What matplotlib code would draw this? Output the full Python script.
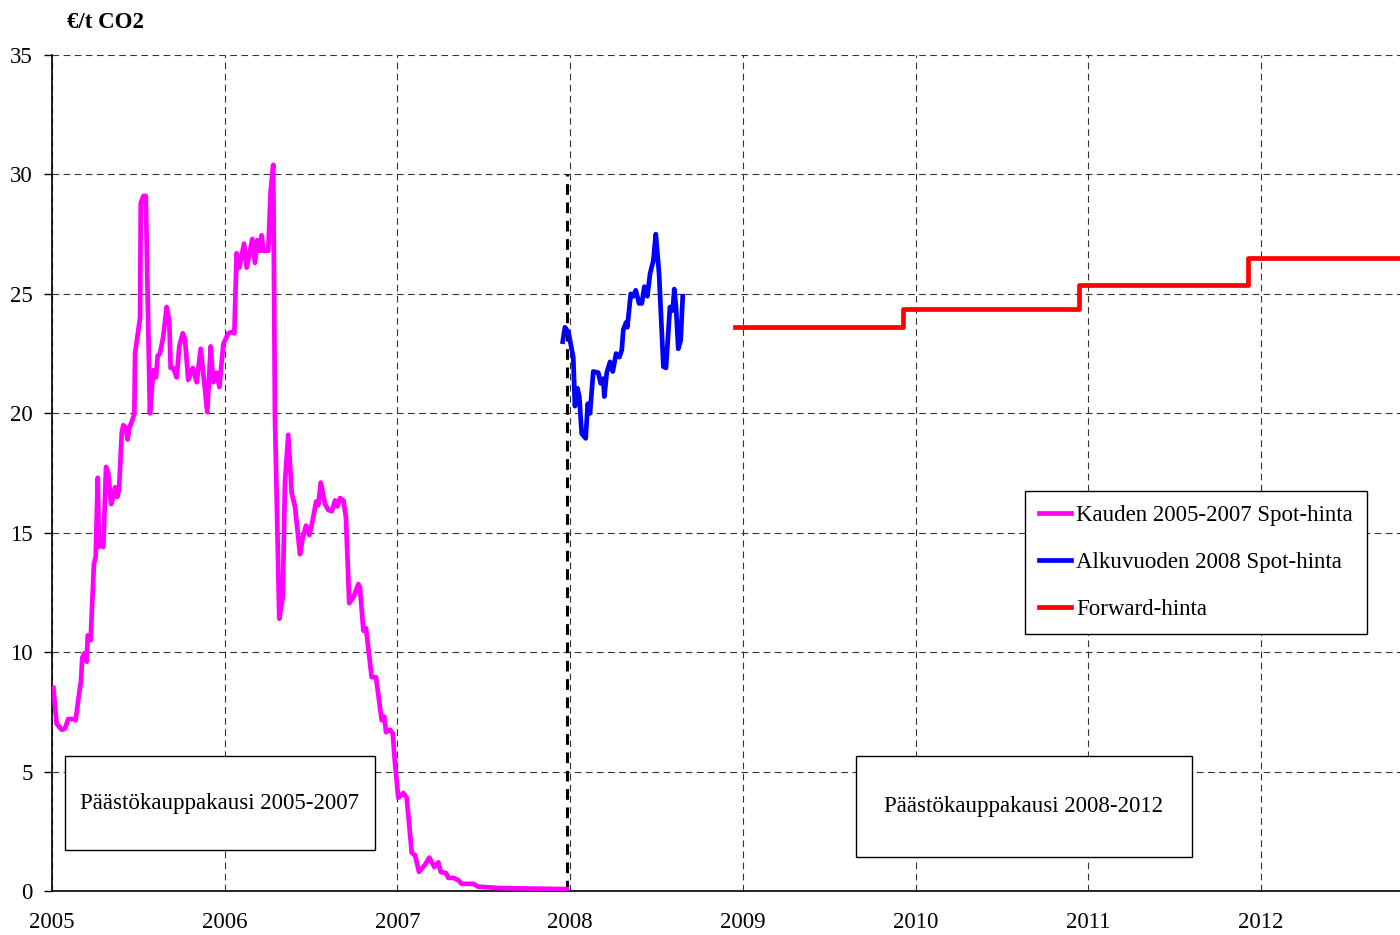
import matplotlib
matplotlib.use("Agg")
import matplotlib.pyplot as plt
from matplotlib.patches import Rectangle
import numpy as np

plt.rcParams['font.family'] = ['Liberation Serif', 'DejaVu Serif']

# ---------------- data ----------------
spot0507_year = [2005.008, 2005.027, 2005.056, 2005.075, 2005.094, 2005.123, 2005.137, 2005.152,
                 2005.168, 2005.175, 2005.187, 2005.201, 2005.207, 2005.224, 2005.230, 2005.243,
                 2005.253, 2005.265, 2005.272, 2005.288, 2005.297, 2005.313, 2005.326, 2005.342,
                 2005.355, 2005.365, 2005.378, 2005.388, 2005.404, 2005.413, 2005.427, 2005.438,
                 2005.448, 2005.465, 2005.477, 2005.481, 2005.510, 2005.514, 2005.529, 2005.543,
                 2005.567, 2005.587, 2005.602, 2005.612, 2005.625, 2005.644, 2005.664, 2005.679,
                 2005.687, 2005.702, 2005.722, 2005.737, 2005.757, 2005.770, 2005.789, 2005.815,
                 2005.838, 2005.861, 2005.880, 2005.899, 2005.919, 2005.934, 2005.954, 2005.969,
                 2005.992, 2006.021, 2006.041, 2006.056, 2006.069, 2006.085, 2006.112, 2006.127,
                 2006.160, 2006.175, 2006.189, 2006.204, 2006.214, 2006.224, 2006.252, 2006.266,
                 2006.281, 2006.291, 2006.316, 2006.336, 2006.349, 2006.368, 2006.388, 2006.407,
                 2006.436, 2006.452, 2006.471, 2006.490, 2006.513, 2006.529, 2006.542, 2006.556,
                 2006.581, 2006.600, 2006.620, 2006.639, 2006.652, 2006.668, 2006.687, 2006.702,
                 2006.721, 2006.745, 2006.774, 2006.783, 2006.803, 2006.818, 2006.851, 2006.876,
                 2006.909, 2006.924, 2006.934, 2006.957, 2006.973, 2006.986, 2007.005, 2007.034,
                 2007.054, 2007.083, 2007.102, 2007.125, 2007.160, 2007.185, 2007.214, 2007.237,
                 2007.251, 2007.281, 2007.295, 2007.324, 2007.353, 2007.372, 2007.439, 2007.468,
                 2007.594, 2007.768, 2007.980]
spot0507_price = [8.5, 7.0, 6.75, 6.8, 7.2, 7.2, 7.15, 8.0,
                  8.8, 9.75, 9.95, 9.6, 10.7, 10.5, 11.6, 13.7,
                  14.0, 17.3, 14.4, 14.6, 14.4, 17.75, 17.5, 16.2,
                  16.5, 16.9, 16.5, 16.8, 19.2, 19.5, 19.4, 18.9,
                  19.4, 19.7, 20.0, 22.5, 24.0, 28.8, 29.1, 29.1,
                  20.0, 21.8, 21.5, 22.4, 22.5, 23.2, 24.45, 23.9,
                  21.9, 21.9, 21.5, 22.8, 23.35, 23.1, 21.4, 21.9,
                  21.3, 22.7, 21.4, 20.05, 22.8, 21.3, 21.7, 21.1,
                  22.9, 23.35, 23.4, 23.35, 26.7, 26.1, 27.1, 26.1,
                  27.3, 26.3, 27.25, 26.8, 27.45, 26.8, 26.8, 29.3,
                  30.4, 19.85, 11.4, 12.3, 17.1, 19.1, 16.65, 16.1,
                  14.1, 14.8, 15.3, 14.9, 15.65, 16.3, 16.15, 17.1,
                  16.2, 15.95, 15.9, 16.35, 16.1, 16.45, 16.35, 15.65,
                  12.05, 12.3, 12.85, 12.7, 10.9, 11.0, 8.95, 8.95,
                  7.15, 7.3, 6.65, 6.75, 6.6, 5.35, 3.9, 4.1,
                  3.9, 1.6, 1.5, 0.8, 1.1, 1.4, 1.0, 1.2,
                  0.8, 0.75, 0.55, 0.55, 0.45, 0.3, 0.3, 0.18,
                  0.12, 0.10, 0.08]

spot2008_year = [2007.957, 2007.970, 2007.990, 2008.018, 2008.028, 2008.042, 2008.053, 2008.067,
                 2008.090, 2008.102, 2008.115, 2008.134, 2008.163, 2008.177, 2008.192, 2008.198,
                 2008.212, 2008.231, 2008.247, 2008.266, 2008.285, 2008.299, 2008.308, 2008.324,
                 2008.331, 2008.351, 2008.366, 2008.380, 2008.399, 2008.415, 2008.430, 2008.447,
                 2008.463, 2008.482, 2008.496, 2008.515, 2008.540, 2008.555, 2008.578, 2008.594,
                 2008.603, 2008.613, 2008.626, 2008.640, 2008.652]
spot2008_price = [23.0, 23.6, 23.4, 22.35, 20.3, 21.05, 20.7, 19.15,
                  18.95, 20.4, 20.0, 21.75, 21.7, 21.25, 21.45, 20.7,
                  21.7, 22.15, 21.75, 22.5, 22.35, 22.65, 23.5, 23.8,
                  23.6, 25.0, 24.9, 25.15, 24.6, 24.6, 25.3, 24.9,
                  25.85, 26.4, 27.5, 25.85, 21.95, 21.9, 24.45, 24.3,
                  25.2, 24.45, 22.7, 23.05, 24.9]

forward_year = [2008.955, 2009.93, 2010.947, 2011.927, 2012.81]
forward_price = [23.6, 24.35, 25.35, 26.5, 26.5]

year_ticks = [2005, 2006, 2007, 2008, 2009, 2010, 2011, 2012]
y_ticks = [0, 5, 10, 15, 20, 25, 30, 35]

series_labels = ["Kauden 2005-2007 Spot-hinta", "Alkuvuoden 2008 Spot-hinta", "Forward-hinta"]
period_labels = ["Päästökauppakausi 2005-2007", "Päästökauppakausi 2008-2012"]
unit_label = "€/t CO2"

# ---------------- figure ----------------
W, H = 1400, 935
FS = 16.5
fig = plt.figure(figsize=(W / 100, H / 100), dpi=100)
ax = fig.add_axes([52 / W, 1 - 891 / H, (1400 - 52) / W, (891 - 55) / H])

ax.plot(spot0507_year, spot0507_price, color='#FF00FF', lw=3.4, solid_joinstyle='round',
        label=series_labels[0], zorder=4)
ax.plot(spot2008_year, spot2008_price, color='#0000FF', lw=3.4, solid_joinstyle='round',
        label=series_labels[1], zorder=4)
ax.plot(forward_year, forward_price, color='#FF0000', lw=3.4, drawstyle='steps-post',
        label=series_labels[2], zorder=4)

# period divider
ax.plot([2007.982, 2007.982], [0, 30], color='black', lw=2.2, ls=(0, (3.5, 2.5)), zorder=3)

ax.set_xlim(2005, 2012.805)
ax.set_ylim(0, 35)
ax.set_xticks(year_ticks)
ax.set_xticklabels([str(y) for y in year_ticks])
ax.set_yticks(y_ticks)
ax.grid(True, color='#333333', lw=0.8, ls=(0, (6, 4)), zorder=1)
ax.tick_params(axis='x', length=0, pad=15, labelsize=FS)
ax.tick_params(axis='y', length=6, width=1, direction='out', pad=8, labelsize=FS)
for s in ['top', 'right']:
    ax.spines[s].set_visible(False)
ax.spines['left'].set_linewidth(1.2)
ax.spines['bottom'].set_linewidth(1.2)

fig.text(67 / W, 1 - 22 / H, unit_label, fontsize=FS, fontweight='bold',
         ha='left', va='center')

# period boxes
def period_box(x0, y0, x1, y1, txt):
    fig.patches.append(Rectangle((x0 / W, 1 - y1 / H), (x1 - x0) / W, (y1 - y0) / H,
                                 transform=fig.transFigure, facecolor='white',
                                 edgecolor='black', lw=1.0, zorder=5))
    fig.text((x0 + x1) / 2 / W, 1 - (y0 + y1) / 2 / H, txt, fontsize=FS,
             ha='center', va='center', zorder=6)

period_box(65, 756, 375, 850, period_labels[0])
period_box(856, 756, 1192, 857, period_labels[1])

leg = ax.legend(loc='upper left', bbox_to_anchor=(1025 / W, 1 - 491 / H),
                bbox_transform=fig.transFigure, borderaxespad=0, fontsize=FS,
                frameon=True, fancybox=False, edgecolor='black', framealpha=1,
                handlelength=1.4, handletextpad=0.2, labelspacing=1.12,
                borderpad=0.62)
leg.get_frame().set_linewidth(1.0)
leg.set_zorder(6)

fig.savefig("out.png", dpi=100)
